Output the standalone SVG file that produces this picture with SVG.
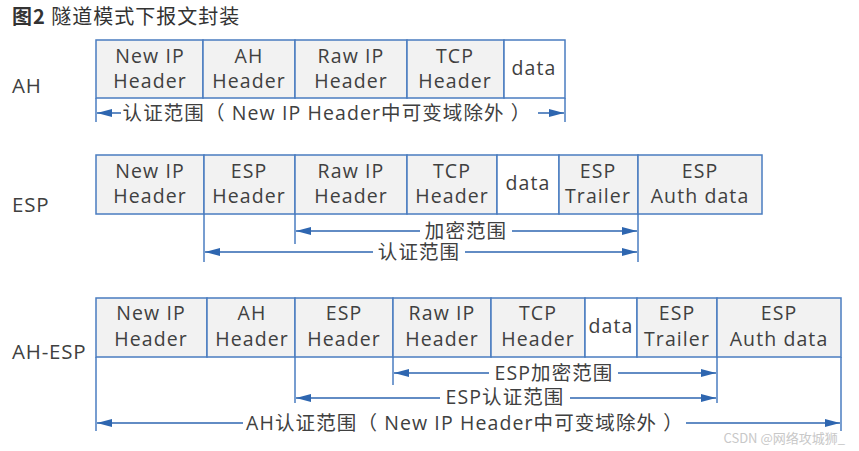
<svg xmlns="http://www.w3.org/2000/svg" width="859" height="451" viewBox="0 0 859 451">
<defs>
<style>
.c{fill:#f2f2f2;stroke:#4a7cc0;stroke-width:1.5}
.w{fill:#ffffff;stroke:#4a7cc0;stroke-width:1.5}
.t{font-family:"Open Sans","Noto Sans CJK SC",sans-serif;font-size:19.5px;letter-spacing:1.1px;fill:#404040;text-anchor:middle}
.l{font-family:"Open Sans","Noto Sans CJK SC",sans-serif;font-size:20.5px;letter-spacing:0.8px;fill:#404040}
.ar{stroke:#2e66b0;stroke-width:1.5;fill:none;marker-end:url(#h)}
.v{stroke:#4a7cc0;stroke-width:1.5}
</style>
<marker id="h" viewBox="0 0 16 10" refX="15" refY="5" markerWidth="16" markerHeight="10" markerUnits="userSpaceOnUse" orient="auto">
<path d="M0,1 L15,5 L0,9 z" fill="#2e66b0"/>
</marker>
</defs>
<rect width="859" height="451" fill="#ffffff"/>
<text x="12" y="24" style="font-family:'Noto Sans CJK SC',sans-serif;font-size:20px;letter-spacing:1px;fill:#333"><tspan font-weight="bold">图2</tspan> 隧道模式下报文封装</text>

<text class="l" x="12" y="93">AH</text>
<text class="l" x="12" y="212">ESP</text>
<text class="l" x="12" y="359">AH-ESP</text>

<g id="ah-row">
<g id="ah-newip"><rect class="c" x="96" y="40" width="107" height="58"/><text class="t" x="150" y="63">New IP</text><text class="t" x="150" y="88">Header</text></g>
<g id="ah-ah"><rect class="c" x="203" y="40" width="92" height="58"/><text class="t" x="249" y="63">AH</text><text class="t" x="249" y="88">Header</text></g>
<g id="ah-rawip"><rect class="c" x="295" y="40" width="112" height="58"/><text class="t" x="351" y="63">Raw IP</text><text class="t" x="351" y="88">Header</text></g>
<g id="ah-tcp"><rect class="c" x="407" y="40" width="97" height="58"/><text class="t" x="455" y="63">TCP</text><text class="t" x="455" y="88">Header</text></g>
<g id="ah-data"><rect class="w" x="504" y="40" width="61" height="58"/><text class="t" x="534" y="75">data</text></g>
</g>

<g id="esp-row">
<g id="esp-newip"><rect class="c" x="96" y="155" width="108" height="59"/><text class="t" x="150" y="178">New IP</text><text class="t" x="150" y="203">Header</text></g>
<g id="esp-esph"><rect class="c" x="204" y="155" width="91" height="59"/><text class="t" x="249" y="178">ESP</text><text class="t" x="249" y="203">Header</text></g>
<g id="esp-rawip"><rect class="c" x="295" y="155" width="112" height="59"/><text class="t" x="351" y="178">Raw IP</text><text class="t" x="351" y="203">Header</text></g>
<g id="esp-tcp"><rect class="c" x="407" y="155" width="90" height="59"/><text class="t" x="452" y="178">TCP</text><text class="t" x="452" y="203">Header</text></g>
<g id="esp-data"><rect class="w" x="497" y="155" width="62" height="59"/><text class="t" x="528" y="190">data</text></g>
<g id="esp-trailer"><rect class="c" x="559" y="155" width="79" height="59"/><text class="t" x="598" y="178">ESP</text><text class="t" x="598" y="203">Trailer</text></g>
<g id="esp-auth"><rect class="c" x="638" y="155" width="124" height="59"/><text class="t" x="700" y="178">ESP</text><text class="t" x="700" y="203">Auth data</text></g>
</g>

<g id="ahesp-row">
<g id="ae-newip"><rect class="c" x="96" y="298" width="111" height="59"/><text class="t" x="151" y="320">New IP</text><text class="t" x="151" y="346">Header</text></g>
<g id="ae-ah"><rect class="c" x="207" y="298" width="88" height="59"/><text class="t" x="252" y="320">AH</text><text class="t" x="252" y="346">Header</text></g>
<g id="ae-esph"><rect class="c" x="295" y="298" width="98" height="59"/><text class="t" x="344" y="320">ESP</text><text class="t" x="344" y="346">Header</text></g>
<g id="ae-rawip"><rect class="c" x="393" y="298" width="98" height="59"/><text class="t" x="442" y="320">Raw IP</text><text class="t" x="442" y="346">Header</text></g>
<g id="ae-tcp"><rect class="c" x="491" y="298" width="94" height="59"/><text class="t" x="538" y="320">TCP</text><text class="t" x="538" y="346">Header</text></g>
<g id="ae-data"><rect class="w" x="585" y="298" width="52" height="59"/><text class="t" x="611" y="333">data</text></g>
<g id="ae-trailer"><rect class="c" x="637" y="298" width="80" height="59"/><text class="t" x="677" y="320">ESP</text><text class="t" x="677" y="346">Trailer</text></g>
<g id="ae-auth"><rect class="c" x="717" y="298" width="124" height="59"/><text class="t" x="779" y="320">ESP</text><text class="t" x="779" y="346">Auth data</text></g>
</g>

<g id="connectors">
<line class="v" x1="96" y1="98" x2="96" y2="122"/>
<line class="v" x1="565" y1="98" x2="565" y2="122"/>
<line class="ar" x1="121" y1="113" x2="97" y2="113"/>
<line class="ar" x1="538" y1="113" x2="564" y2="113"/>
<text class="t" x="327" y="120">认证范围（ New IP Header中可变域除外 ）</text>

<line class="v" x1="204" y1="214" x2="204" y2="262"/>
<line class="v" x1="295" y1="214" x2="295" y2="244"/>
<line class="v" x1="638" y1="214" x2="638" y2="262"/>
<line class="ar" x1="420" y1="231" x2="296" y2="231"/>
<line class="ar" x1="512" y1="231" x2="637" y2="231"/>
<text class="t" x="466" y="238">加密范围</text>
<line class="ar" x1="373" y1="252" x2="205" y2="252"/>
<line class="ar" x1="465" y1="252" x2="637" y2="252"/>
<text class="t" x="419" y="259">认证范围</text>

<line class="v" x1="96" y1="357" x2="96" y2="431"/>
<line class="v" x1="295" y1="357" x2="295" y2="403"/>
<line class="v" x1="393" y1="357" x2="393" y2="385"/>
<line class="v" x1="717" y1="357" x2="717" y2="403"/>
<line class="v" x1="841" y1="357" x2="841" y2="431"/>
<line class="ar" x1="489" y1="373" x2="394" y2="373"/>
<line class="ar" x1="618" y1="373" x2="716" y2="373"/>
<text class="t" x="554" y="380">ESP加密范围</text>
<line class="ar" x1="440" y1="398" x2="296" y2="398"/>
<line class="ar" x1="570" y1="398" x2="716" y2="398"/>
<text class="t" x="505" y="404">ESP认证范围</text>
<line class="ar" x1="243" y1="423" x2="97" y2="423"/>
<line class="ar" x1="686" y1="423" x2="840" y2="423"/>
<text class="t" x="465" y="430">AH认证范围（ New IP Header中可变域除外 ）</text>
</g>

<text x="845" y="443" style="font-family:'Noto Sans CJK SC',sans-serif;font-size:13px;fill:#c8c8c8;text-anchor:end">CSDN @网络攻城狮_</text>
</svg>
